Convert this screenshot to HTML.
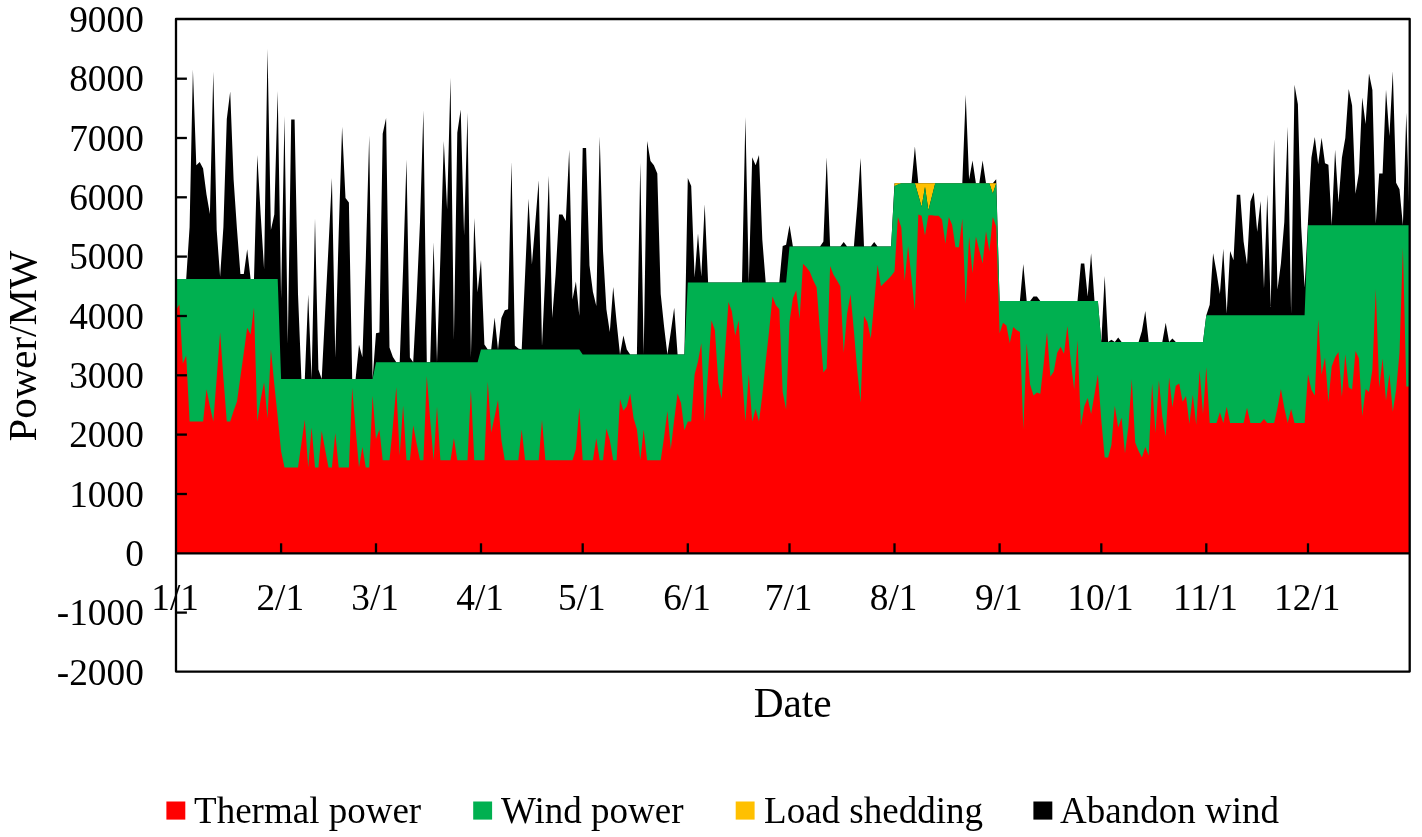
<!DOCTYPE html>
<html><head><meta charset="utf-8"><title>Power chart</title>
<style>
html,body{margin:0;padding:0;background:#fff;}
body{width:1422px;height:837px;overflow:hidden;}
svg{display:block;}
text{font-family:"Liberation Serif","Times New Roman",serif;fill:#000;}
</style></head><body>
<svg width="1422" height="837" viewBox="0 0 1422 837">
<rect width="1422" height="837" fill="#fff"/>

<polygon points="176.0,553.3 176.0,279.1 179.4,279.1 182.8,279.1 186.2,279.1 189.6,227.0 192.9,69.5 196.3,165.3 199.7,162.0 203.1,168.5 206.5,194.4 209.9,213.9 213.3,71.8 216.7,230.0 220.1,276.8 223.4,227.0 226.8,119.0 230.2,91.4 233.6,179.5 237.0,229.4 240.4,273.9 243.8,273.9 247.2,249.2 250.6,279.1 254.0,279.1 257.3,154.9 260.7,215.1 264.1,269.1 267.5,48.7 270.9,230.0 274.3,214.5 277.7,90.9 281.1,298.2 284.5,115.9 287.8,343.9 291.2,119.6 294.6,119.6 298.0,294.0 301.4,379.0 304.8,379.0 308.2,294.6 311.6,379.0 315.0,218.4 318.4,369.4 321.7,379.0 325.1,312.7 328.5,246.6 331.9,178.0 335.3,357.5 338.7,232.9 342.1,126.8 345.5,198.0 348.9,202.4 352.2,379.0 355.6,379.0 359.0,344.8 362.4,357.2 365.8,259.6 369.2,135.6 372.6,379.0 376.0,333.2 379.4,332.6 382.7,133.7 386.1,118.1 389.5,347.4 392.9,356.9 396.3,362.2 399.7,362.2 403.1,268.5 406.5,159.5 409.9,357.5 413.2,362.2 416.6,298.2 420.0,222.2 423.4,110.4 426.8,362.2 430.2,362.2 433.6,242.3 437.0,362.2 440.4,256.6 443.8,141.0 447.1,209.2 450.5,77.8 453.9,339.7 457.3,132.7 460.7,109.4 464.1,235.3 467.5,112.7 470.9,357.5 474.3,218.0 477.6,292.2 481.0,259.9 484.4,344.5 487.8,349.5 491.2,349.5 494.6,317.5 498.0,349.5 501.4,317.9 504.8,310.3 508.1,309.2 511.5,161.7 514.9,345.6 518.3,348.6 521.7,349.5 525.1,274.4 528.5,198.7 531.9,264.5 535.3,223.1 538.7,180.2 542.0,346.2 545.4,271.7 548.8,175.8 552.2,317.9 555.6,274.4 559.0,214.4 562.4,214.4 565.8,221.1 569.2,149.7 572.5,299.4 575.9,281.6 579.3,315.7 582.7,147.9 586.1,147.9 589.5,265.5 592.9,291.8 596.3,305.9 599.7,136.6 603.0,250.7 606.4,309.2 609.8,332.1 613.2,287.0 616.6,321.9 620.0,354.5 623.4,335.4 626.8,349.5 630.2,354.5 633.6,354.5 636.9,354.5 640.3,162.8 643.7,354.5 647.1,141.0 650.5,161.0 653.9,165.3 657.3,173.4 660.7,294.0 664.1,326.7 667.4,354.5 670.8,332.0 674.2,307.7 677.6,354.5 681.0,354.5 684.4,354.5 687.8,178.0 691.2,186.0 694.6,277.6 698.0,233.5 701.3,276.5 704.7,204.2 708.1,282.6 711.5,282.6 714.9,282.6 718.3,282.6 721.7,282.6 725.1,282.6 728.5,282.6 731.8,282.6 735.2,282.6 738.6,282.6 742.0,282.6 745.4,117.0 748.8,282.6 752.2,157.3 755.6,165.3 759.0,155.1 762.3,239.4 765.7,282.6 769.1,282.6 772.5,282.6 775.9,282.6 779.3,282.6 782.7,246.0 786.1,244.8 789.5,225.2 792.9,246.4 796.2,246.4 799.6,246.4 803.0,246.4 806.4,246.4 809.8,246.4 813.2,246.4 816.6,246.4 820.0,246.4 823.4,241.6 826.7,157.3 830.1,246.4 833.5,246.4 836.9,246.4 840.3,246.4 843.7,242.1 847.1,246.4 850.5,246.4 853.9,246.4 857.2,206.2 860.6,158.0 864.0,246.4 867.4,246.4 870.8,246.4 874.2,242.1 877.6,246.4 881.0,246.4 884.4,246.4 887.8,246.4 891.1,246.4 894.5,183.3 897.9,183.3 901.3,183.3 904.7,183.3 908.1,183.3 911.5,183.3 914.9,146.4 918.3,183.3 921.6,183.3 925.0,183.3 928.4,183.3 931.8,183.3 935.2,183.3 938.6,183.3 942.0,183.3 945.4,183.3 948.8,183.3 952.1,183.3 955.5,183.3 958.9,183.3 962.3,183.3 965.7,94.8 969.1,179.5 972.5,160.4 975.9,183.3 979.3,183.3 982.6,160.4 986.0,183.3 989.4,183.3 992.8,183.3 996.2,179.3 999.6,300.9 1003.0,300.9 1006.4,300.9 1009.8,300.9 1013.2,300.9 1016.5,300.9 1019.9,300.9 1023.3,264.1 1026.7,300.9 1030.1,300.9 1033.5,296.5 1036.9,296.5 1040.3,300.9 1043.7,300.9 1047.0,300.9 1050.4,300.9 1053.8,300.9 1057.2,300.9 1060.6,300.9 1064.0,300.9 1067.4,300.9 1070.8,300.9 1074.2,300.9 1077.5,300.9 1080.9,263.4 1084.3,263.4 1087.7,296.4 1091.1,253.2 1094.5,300.9 1097.9,300.9 1101.3,341.9 1104.7,276.1 1108.1,341.9 1111.4,339.7 1114.8,341.9 1118.2,337.5 1121.6,341.9 1125.0,341.9 1128.4,341.9 1131.8,341.9 1135.2,341.9 1138.6,341.9 1141.9,331.0 1145.3,311.0 1148.7,341.9 1152.1,341.9 1155.5,341.9 1158.9,341.9 1162.3,341.9 1165.7,322.7 1169.1,341.9 1172.4,338.6 1175.8,341.9 1179.2,341.9 1182.6,341.9 1186.0,341.9 1189.4,341.9 1192.8,341.9 1196.2,341.9 1199.6,341.9 1203.0,341.9 1206.3,315.3 1209.7,304.8 1213.1,253.2 1216.5,272.1 1219.9,294.0 1223.3,248.8 1226.7,313.6 1230.1,251.0 1233.5,260.2 1236.8,194.8 1240.2,194.8 1243.6,241.6 1247.0,264.5 1250.4,201.4 1253.8,192.2 1257.2,231.8 1260.6,200.9 1264.0,288.5 1267.3,194.4 1270.7,307.1 1274.1,139.2 1277.5,289.6 1280.9,263.4 1284.3,222.1 1287.7,126.8 1291.1,313.6 1294.5,84.7 1297.9,104.3 1301.2,227.0 1304.6,287.5 1308.0,221.1 1311.4,157.7 1314.8,137.1 1318.2,164.3 1321.6,137.7 1325.0,163.2 1328.4,164.7 1331.7,225.3 1335.1,149.7 1338.5,202.4 1341.9,157.7 1345.3,138.0 1348.7,89.0 1352.1,105.4 1355.5,193.7 1358.9,173.0 1362.2,97.4 1365.6,124.0 1369.0,73.4 1372.4,90.1 1375.8,223.4 1379.2,173.4 1382.6,173.4 1386.0,89.8 1389.4,136.0 1392.8,71.2 1396.1,182.8 1399.5,189.3 1402.9,225.3 1406.3,112.7 1409.7,225.3 1409.7,553.3" fill="#000000"/>
<polygon points="894.5,183.3 897.9,183.3 901.3,183.3 904.7,183.3 908.1,183.3 911.5,183.3 914.9,183.3 918.3,183.3 921.6,183.3 925.0,183.3 928.4,183.3 931.8,183.3 935.2,183.3 938.6,183.3 942.0,183.3 945.4,183.3 948.8,183.3 952.1,183.3 955.5,183.3 958.9,183.3 962.3,183.3 965.7,183.3 969.1,183.3 972.5,183.3 975.9,183.3 979.3,183.3 982.6,183.3 986.0,183.3 989.4,183.3 992.8,183.3 996.2,183.3 996.2,183.6 992.8,193.8 989.4,183.6 986.0,183.6 982.6,183.6 979.3,183.6 975.9,183.6 972.5,183.6 969.1,183.6 965.7,183.6 962.3,183.6 958.9,183.6 955.5,183.6 952.1,183.6 948.8,183.6 945.4,183.6 942.0,183.6 938.6,183.6 935.2,183.6 931.8,197.0 928.4,210.5 925.0,187.1 921.6,207.0 918.3,195.2 914.9,183.6 911.5,183.6 908.1,183.6 904.7,183.6 901.3,183.6 897.9,184.8 894.5,186.3" fill="#ffc000"/>
<polygon points="176.0,553.3 176.0,279.1 179.4,279.1 182.8,279.1 186.2,279.1 189.6,279.1 192.9,279.1 196.3,279.1 199.7,279.1 203.1,279.1 206.5,279.1 209.9,279.1 213.3,279.1 216.7,279.1 220.1,279.1 223.4,279.1 226.8,279.1 230.2,279.1 233.6,279.1 237.0,279.1 240.4,279.1 243.8,279.1 247.2,279.1 250.6,279.1 254.0,279.1 257.3,279.1 260.7,279.1 264.1,279.1 267.5,279.1 270.9,279.1 274.3,279.1 277.7,279.1 281.1,379.0 284.5,379.0 287.8,379.0 291.2,379.0 294.6,379.0 298.0,379.0 301.4,379.0 304.8,379.0 308.2,379.0 311.6,379.0 315.0,379.0 318.4,379.0 321.7,379.0 325.1,379.0 328.5,379.0 331.9,379.0 335.3,379.0 338.7,379.0 342.1,379.0 345.5,379.0 348.9,379.0 352.2,379.0 355.6,379.0 359.0,379.0 362.4,379.0 365.8,379.0 369.2,379.0 372.6,379.0 376.0,362.2 379.4,362.2 382.7,362.2 386.1,362.2 389.5,362.2 392.9,362.2 396.3,362.2 399.7,362.2 403.1,362.2 406.5,362.2 409.9,362.2 413.2,362.2 416.6,362.2 420.0,362.2 423.4,362.2 426.8,362.2 430.2,362.2 433.6,362.2 437.0,362.2 440.4,362.2 443.8,362.2 447.1,362.2 450.5,362.2 453.9,362.2 457.3,362.2 460.7,362.2 464.1,362.2 467.5,362.2 470.9,362.2 474.3,362.2 477.6,362.2 481.0,349.5 484.4,349.5 487.8,349.5 491.2,349.5 494.6,349.5 498.0,349.5 501.4,349.5 504.8,349.5 508.1,349.5 511.5,349.5 514.9,349.5 518.3,349.5 521.7,349.5 525.1,349.5 528.5,349.5 531.9,349.5 535.3,349.5 538.7,349.5 542.0,349.5 545.4,349.5 548.8,349.5 552.2,349.5 555.6,349.5 559.0,349.5 562.4,349.5 565.8,349.5 569.2,349.5 572.5,349.5 575.9,349.5 579.3,349.5 582.7,354.5 586.1,354.5 589.5,354.5 592.9,354.5 596.3,354.5 599.7,354.5 603.0,354.5 606.4,354.5 609.8,354.5 613.2,354.5 616.6,354.5 620.0,354.5 623.4,354.5 626.8,354.5 630.2,354.5 633.6,354.5 636.9,354.5 640.3,354.5 643.7,354.5 647.1,354.5 650.5,354.5 653.9,354.5 657.3,354.5 660.7,354.5 664.1,354.5 667.4,354.5 670.8,354.5 674.2,354.5 677.6,354.5 681.0,354.5 684.4,354.5 687.8,282.6 691.2,282.6 694.6,282.6 698.0,282.6 701.3,282.6 704.7,282.6 708.1,282.6 711.5,282.6 714.9,282.6 718.3,282.6 721.7,282.6 725.1,282.6 728.5,282.6 731.8,282.6 735.2,282.6 738.6,282.6 742.0,282.6 745.4,282.6 748.8,282.6 752.2,282.6 755.6,282.6 759.0,282.6 762.3,282.6 765.7,282.6 769.1,282.6 772.5,282.6 775.9,282.6 779.3,282.6 782.7,282.6 786.1,282.6 789.5,246.4 792.9,246.4 796.2,246.4 799.6,246.4 803.0,246.4 806.4,246.4 809.8,246.4 813.2,246.4 816.6,246.4 820.0,246.4 823.4,246.4 826.7,246.4 830.1,246.4 833.5,246.4 836.9,246.4 840.3,246.4 843.7,246.4 847.1,246.4 850.5,246.4 853.9,246.4 857.2,246.4 860.6,246.4 864.0,246.4 867.4,246.4 870.8,246.4 874.2,246.4 877.6,246.4 881.0,246.4 884.4,246.4 887.8,246.4 891.1,246.4 894.5,186.0 897.9,184.5 901.3,183.3 904.7,183.3 908.1,183.3 911.5,183.3 914.9,183.3 918.3,194.9 921.6,206.7 925.0,186.8 928.4,210.2 931.8,196.7 935.2,183.3 938.6,183.3 942.0,183.3 945.4,183.3 948.8,183.3 952.1,183.3 955.5,183.3 958.9,183.3 962.3,183.3 965.7,183.3 969.1,183.3 972.5,183.3 975.9,183.3 979.3,183.3 982.6,183.3 986.0,183.3 989.4,183.3 992.8,193.5 996.2,183.3 999.6,300.9 1003.0,300.9 1006.4,300.9 1009.8,300.9 1013.2,300.9 1016.5,300.9 1019.9,300.9 1023.3,300.9 1026.7,300.9 1030.1,300.9 1033.5,300.9 1036.9,300.9 1040.3,300.9 1043.7,300.9 1047.0,300.9 1050.4,300.9 1053.8,300.9 1057.2,300.9 1060.6,300.9 1064.0,300.9 1067.4,300.9 1070.8,300.9 1074.2,300.9 1077.5,300.9 1080.9,300.9 1084.3,300.9 1087.7,300.9 1091.1,300.9 1094.5,300.9 1097.9,300.9 1101.3,341.9 1104.7,341.9 1108.1,341.9 1111.4,341.9 1114.8,341.9 1118.2,341.9 1121.6,341.9 1125.0,341.9 1128.4,341.9 1131.8,341.9 1135.2,341.9 1138.6,341.9 1141.9,341.9 1145.3,341.9 1148.7,341.9 1152.1,341.9 1155.5,341.9 1158.9,341.9 1162.3,341.9 1165.7,341.9 1169.1,341.9 1172.4,341.9 1175.8,341.9 1179.2,341.9 1182.6,341.9 1186.0,341.9 1189.4,341.9 1192.8,341.9 1196.2,341.9 1199.6,341.9 1203.0,341.9 1206.3,315.3 1209.7,315.3 1213.1,315.3 1216.5,315.3 1219.9,315.3 1223.3,315.3 1226.7,315.3 1230.1,315.3 1233.5,315.3 1236.8,315.3 1240.2,315.3 1243.6,315.3 1247.0,315.3 1250.4,315.3 1253.8,315.3 1257.2,315.3 1260.6,315.3 1264.0,315.3 1267.3,315.3 1270.7,315.3 1274.1,315.3 1277.5,315.3 1280.9,315.3 1284.3,315.3 1287.7,315.3 1291.1,315.3 1294.5,315.3 1297.9,315.3 1301.2,315.3 1304.6,315.3 1308.0,225.3 1311.4,225.3 1314.8,225.3 1318.2,225.3 1321.6,225.3 1325.0,225.3 1328.4,225.3 1331.7,225.3 1335.1,225.3 1338.5,225.3 1341.9,225.3 1345.3,225.3 1348.7,225.3 1352.1,225.3 1355.5,225.3 1358.9,225.3 1362.2,225.3 1365.6,225.3 1369.0,225.3 1372.4,225.3 1375.8,225.3 1379.2,225.3 1382.6,225.3 1386.0,225.3 1389.4,225.3 1392.8,225.3 1396.1,225.3 1399.5,225.3 1402.9,225.3 1406.3,225.3 1409.7,225.3 1409.7,553.3" fill="#00b050"/>
<polygon points="176.0,553.3 176.0,310.0 179.4,304.6 182.8,363.4 186.2,355.6 189.6,421.6 192.9,421.6 196.3,421.6 199.7,421.6 203.1,421.6 206.5,389.2 209.9,406.2 213.3,421.6 216.7,377.7 220.1,332.5 223.4,377.7 226.8,421.6 230.2,421.6 233.6,410.9 237.0,401.4 240.4,377.1 243.8,352.8 247.2,327.7 250.6,334.4 254.0,307.6 257.3,421.6 260.7,399.0 264.1,382.3 267.5,418.6 270.9,349.4 274.3,384.2 277.7,416.8 281.1,451.3 284.5,467.4 287.8,467.4 291.2,467.4 294.6,467.4 298.0,467.4 301.4,443.5 304.8,419.8 308.2,467.4 311.6,427.5 315.0,467.4 318.4,467.4 321.7,430.7 325.1,449.5 328.5,467.4 331.9,467.4 335.3,432.9 338.7,467.4 342.1,467.4 345.5,467.4 348.9,467.4 352.2,388.1 355.6,428.7 359.0,467.4 362.4,447.0 365.8,467.4 369.2,467.4 372.6,395.8 376.0,439.1 379.4,429.6 382.7,460.2 386.1,460.2 389.5,460.2 392.9,425.7 396.3,387.0 399.7,455.4 403.1,405.6 406.5,460.2 409.9,460.2 413.2,425.3 416.6,443.5 420.0,460.2 423.4,460.2 426.8,376.1 430.2,419.8 433.6,460.2 437.0,406.7 440.4,460.2 443.8,460.2 447.1,460.2 450.5,460.2 453.9,438.3 457.3,460.2 460.7,460.2 464.1,460.2 467.5,460.2 470.9,390.0 474.3,460.2 477.6,460.2 481.0,460.2 484.4,460.2 487.8,381.7 491.2,432.5 494.6,416.8 498.0,400.1 501.4,440.3 504.8,460.2 508.1,460.2 511.5,460.2 514.9,460.2 518.3,460.2 521.7,429.6 525.1,460.2 528.5,460.2 531.9,460.2 535.3,460.2 538.7,460.2 542.0,419.8 545.4,460.2 548.8,460.2 552.2,460.2 555.6,460.2 559.0,460.2 562.4,460.2 565.8,460.2 569.2,460.2 572.5,460.2 575.9,448.9 579.3,407.8 582.7,460.2 586.1,460.2 589.5,460.2 592.9,460.2 596.3,438.3 599.7,460.2 603.0,460.2 606.4,428.5 609.8,440.1 613.2,460.2 616.6,460.2 620.0,398.9 623.4,410.7 626.8,406.2 630.2,393.5 633.6,418.3 636.9,429.3 640.3,460.2 643.7,429.6 647.1,460.2 650.5,460.2 653.9,460.2 657.3,460.2 660.7,460.2 664.1,436.9 667.4,411.1 670.8,448.9 674.2,419.8 677.6,393.5 681.0,403.1 684.4,430.3 687.8,421.6 691.2,421.6 694.6,374.6 698.0,361.5 701.3,343.3 704.7,421.6 708.1,370.9 711.5,320.5 714.9,330.2 718.3,382.4 721.7,398.7 725.1,350.6 728.5,301.9 731.8,311.2 735.2,335.4 738.6,320.5 742.0,375.3 745.4,421.6 748.8,373.9 752.2,421.6 755.6,408.9 759.0,421.6 762.3,394.9 765.7,361.5 769.1,331.0 772.5,296.5 775.9,305.3 779.3,309.2 782.7,391.9 786.1,409.6 789.5,321.9 792.9,298.2 796.2,290.3 799.6,319.0 803.0,263.8 806.4,267.3 809.8,271.8 813.2,280.2 816.6,287.3 820.0,331.0 823.4,372.4 826.7,368.2 830.1,266.0 833.5,274.8 836.9,280.2 840.3,286.2 843.7,352.8 847.1,313.6 850.5,294.3 853.9,331.0 857.2,370.2 860.6,402.6 864.0,315.9 867.4,321.9 870.8,338.6 874.2,302.6 877.6,264.8 881.0,286.3 884.4,282.8 887.8,279.5 891.1,276.1 894.5,271.5 897.9,217.0 901.3,227.5 904.7,280.7 908.1,245.9 911.5,278.6 914.9,310.3 918.3,214.6 921.6,215.7 925.0,235.4 928.4,215.3 931.8,215.3 935.2,215.7 938.6,215.7 942.0,219.5 945.4,243.8 948.8,217.0 952.1,224.8 955.5,247.2 958.9,247.2 962.3,218.7 965.7,303.8 969.1,236.4 972.5,273.3 975.9,236.4 979.3,250.3 982.6,263.4 986.0,231.3 989.4,251.4 992.8,217.0 996.2,226.6 999.6,333.2 1003.0,322.7 1006.4,325.6 1009.8,343.0 1013.2,327.1 1016.5,329.9 1019.9,332.1 1023.3,429.2 1026.7,343.3 1030.1,384.4 1033.5,395.4 1036.9,392.4 1040.3,393.7 1043.7,363.7 1047.0,332.5 1050.4,376.8 1053.8,371.4 1057.2,352.8 1060.6,346.7 1064.0,353.8 1067.4,325.9 1070.8,361.5 1074.2,389.8 1077.5,340.1 1080.9,426.0 1084.3,406.3 1087.7,398.0 1091.1,414.0 1094.5,394.3 1097.9,374.6 1101.3,420.2 1104.7,457.6 1108.1,457.6 1111.4,445.0 1114.8,405.7 1118.2,427.6 1121.6,417.7 1125.0,453.2 1128.4,426.6 1131.8,379.3 1135.2,442.4 1138.6,451.0 1141.9,457.6 1145.3,447.0 1148.7,455.4 1152.1,383.5 1155.5,433.1 1158.9,380.5 1162.3,416.5 1165.7,436.4 1169.1,377.6 1172.4,407.3 1175.8,385.7 1179.2,383.6 1182.6,401.8 1186.0,396.0 1189.4,423.8 1192.8,394.7 1196.2,424.8 1199.6,370.4 1203.0,413.9 1206.3,366.9 1209.7,423.1 1213.1,423.1 1216.5,423.1 1219.9,412.2 1223.3,423.1 1226.7,406.7 1230.1,423.1 1233.5,423.1 1236.8,423.1 1240.2,423.1 1243.6,423.1 1247.0,407.8 1250.4,423.1 1253.8,423.1 1257.2,423.1 1260.6,423.1 1264.0,419.1 1267.3,423.1 1270.7,423.1 1274.1,423.1 1277.5,407.9 1280.9,389.1 1284.3,407.9 1287.7,423.1 1291.1,408.9 1294.5,423.1 1297.9,423.1 1301.2,423.1 1304.6,423.1 1308.0,373.9 1311.4,389.8 1314.8,395.5 1318.2,319.4 1321.6,374.6 1325.0,357.6 1328.4,402.0 1331.7,366.4 1335.1,357.2 1338.5,352.1 1341.9,396.7 1345.3,354.2 1348.7,387.2 1352.1,389.5 1355.5,351.0 1358.9,358.3 1362.2,416.2 1365.6,389.1 1369.0,392.0 1372.4,369.4 1375.8,288.9 1379.2,387.7 1382.6,358.6 1386.0,400.8 1389.4,373.9 1392.8,411.8 1396.1,390.1 1399.5,352.8 1402.9,247.5 1406.3,386.6 1409.7,386.6 1409.7,553.3" fill="#ff0000"/>

<g stroke="#000" stroke-width="2.3" fill="none" stroke-linejoin="round" stroke-linecap="butt">
<rect x="176" y="19" width="1233.7" height="652.6"/>
<line x1="176" y1="553.3" x2="1409.7" y2="553.3"/>
<line x1="176" y1="612.6" x2="186.9" y2="612.6"/>
<line x1="176" y1="494.0" x2="186.9" y2="494.0"/>
<line x1="176" y1="434.6" x2="186.9" y2="434.6"/>
<line x1="176" y1="375.3" x2="186.9" y2="375.3"/>
<line x1="176" y1="316.0" x2="186.9" y2="316.0"/>
<line x1="176" y1="256.6" x2="186.9" y2="256.6"/>
<line x1="176" y1="197.3" x2="186.9" y2="197.3"/>
<line x1="176" y1="138.0" x2="186.9" y2="138.0"/>
<line x1="176" y1="78.7" x2="186.9" y2="78.7"/>
<line x1="281.1" y1="553.3" x2="281.1" y2="543.3"/>
<line x1="376.0" y1="553.3" x2="376.0" y2="543.3"/>
<line x1="481.0" y1="553.3" x2="481.0" y2="543.3"/>
<line x1="582.7" y1="553.3" x2="582.7" y2="543.3"/>
<line x1="687.8" y1="553.3" x2="687.8" y2="543.3"/>
<line x1="789.5" y1="553.3" x2="789.5" y2="543.3"/>
<line x1="894.5" y1="553.3" x2="894.5" y2="543.3"/>
<line x1="999.6" y1="553.3" x2="999.6" y2="543.3"/>
<line x1="1101.3" y1="553.3" x2="1101.3" y2="543.3"/>
<line x1="1206.3" y1="553.3" x2="1206.3" y2="543.3"/>
<line x1="1308.0" y1="553.3" x2="1308.0" y2="543.3"/>
</g>
<text x="143.8" y="684.5" font-size="37.3" text-anchor="end">-2000</text>
<text x="143.8" y="625.1" font-size="37.3" text-anchor="end">-1000</text>
<text x="143.8" y="565.8" font-size="37.3" text-anchor="end">0</text>
<text x="143.8" y="506.5" font-size="37.3" text-anchor="end">1000</text>
<text x="143.8" y="447.1" font-size="37.3" text-anchor="end">2000</text>
<text x="143.8" y="387.8" font-size="37.3" text-anchor="end">3000</text>
<text x="143.8" y="328.5" font-size="37.3" text-anchor="end">4000</text>
<text x="143.8" y="269.1" font-size="37.3" text-anchor="end">5000</text>
<text x="143.8" y="209.8" font-size="37.3" text-anchor="end">6000</text>
<text x="143.8" y="150.5" font-size="37.3" text-anchor="end">7000</text>
<text x="143.8" y="91.2" font-size="37.3" text-anchor="end">8000</text>
<text x="143.8" y="31.8" font-size="37.3" text-anchor="end">9000</text>
<text x="175.2" y="609.6" font-size="37.3" text-anchor="middle">1/1</text>
<text x="280.3" y="609.6" font-size="37.3" text-anchor="middle">2/1</text>
<text x="375.2" y="609.6" font-size="37.3" text-anchor="middle">3/1</text>
<text x="480.2" y="609.6" font-size="37.3" text-anchor="middle">4/1</text>
<text x="581.9" y="609.6" font-size="37.3" text-anchor="middle">5/1</text>
<text x="687.0" y="609.6" font-size="37.3" text-anchor="middle">6/1</text>
<text x="788.7" y="609.6" font-size="37.3" text-anchor="middle">7/1</text>
<text x="893.7" y="609.6" font-size="37.3" text-anchor="middle">8/1</text>
<text x="998.8" y="609.6" font-size="37.3" text-anchor="middle">9/1</text>
<text x="1100.5" y="609.6" font-size="37.3" text-anchor="middle">10/1</text>
<text x="1205.5" y="609.6" font-size="37.3" text-anchor="middle">11/1</text>
<text x="1307.2" y="609.6" font-size="37.3" text-anchor="middle">12/1</text>
<text x="792.7" y="717" font-size="41.3" text-anchor="middle">Date</text>
<text transform="translate(36.2,346) rotate(-90)" font-size="40.9" text-anchor="middle">Power/MW</text>
<rect x="166.4" y="801.5" width="18.9" height="18.1" fill="#ff0000"/>
<text x="194.1" y="822.6" font-size="37">Thermal power</text>
<rect x="473.2" y="801.5" width="18.9" height="18.1" fill="#00b050"/>
<text x="501.1" y="822.6" font-size="37">Wind power</text>
<rect x="735.7" y="801.5" width="18.9" height="18.1" fill="#ffc000"/>
<text x="764.1" y="822.6" font-size="37">Load shedding</text>
<rect x="1033.4" y="801.5" width="18.9" height="18.1" fill="#000"/>
<text x="1060.1" y="822.6" font-size="37">Abandon wind</text>
</svg></body></html>
